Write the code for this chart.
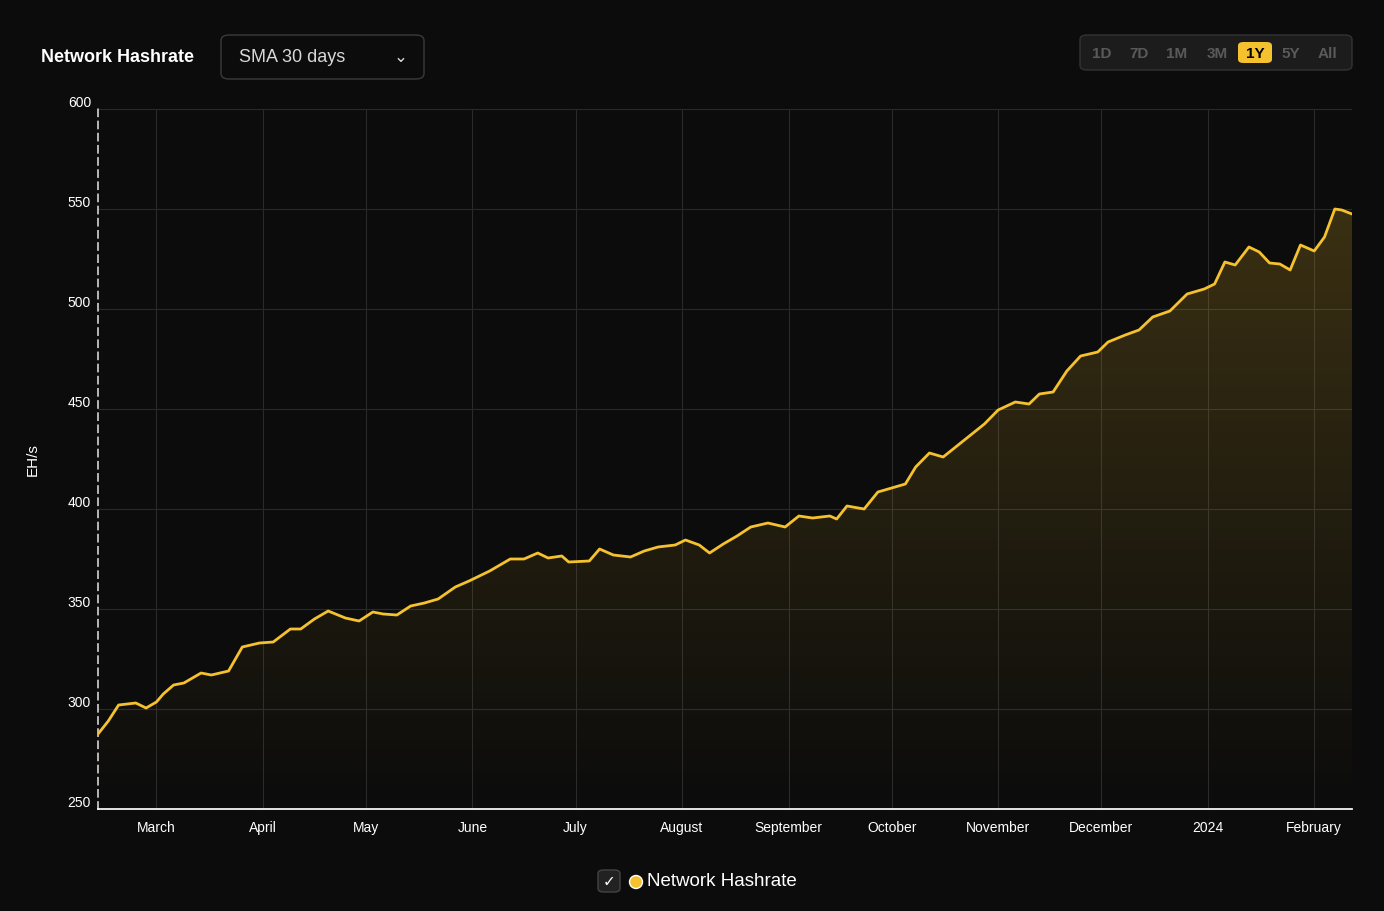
import numpy as np, pandas as pd, seaborn as sns, matplotlib
matplotlib.use("Agg")
import matplotlib.pyplot as plt
from matplotlib.patches import FancyBboxPatch, Polygon

day_offsets = [0,3,6,11,14,17,19,22,25,30,33,38,42,47,51,56,59,63,67,72,76,80,83,87,91,95,99,104,108,114,120,124,128,131,135,137,143,146,150,155,159,163,168,171,175,178,182,186,190,195,200,204,208,213,215,218,223,227,231,235,238,242,246,250,254,258,262,267,271,274,278,282,286,291,294,299,303,307,312,317,322,325,328,331,335,338,341,344,347,350,354,357,360,362,365]
hashrate = [287.5,294,302,303,300.5,303.5,307.5,312,313,318,317,319,331,333,333.5,340,340,345,349,345.5,344,348.5,347.5,347,351.5,353,355,361,364,369,375,375,378,375.5,376.5,373.5,374,380,377,376,379,381,382,384.5,382,378,382.5,386.5,391,393,391,396.5,395.5,396.5,395,401.5,400,408.5,410.5,412.5,421,428,426,431.5,437,442.5,449.5,453.5,452.5,457.5,458.5,469,476.5,478.5,483.5,487,489.5,496,499,507.5,510,512.5,523.5,522,531,528.5,523,522.5,519.5,532,529,536,550,549.5,547.5]
tick_labels = ["March","April","May","June","July","August","September","October","November","December","2024","February"]
tick_dates = ["2023-03-01","2023-04-01","2023-05-01","2023-06-01","2023-07-01","2023-08-01","2023-09-01","2023-10-01","2023-11-01","2023-12-01","2024-01-01","2024-02-01"]
yticks = [250,300,350,400,450,500,550,600]

start = pd.Timestamp("2023-02-12")
df = pd.DataFrame({"date": [start + pd.Timedelta(days=d) for d in day_offsets], "v": hashrate})

bg = "#0c0c0c"; gold = "#f5c12e"
sns.set_theme(style="dark")
plt.rcParams['font.family'] = ['Liberation Sans', 'DejaVu Sans']
fig = plt.figure(figsize=(13.84, 9.12), dpi=100, facecolor=bg)
ax = fig.add_axes([98/1384, 102/912, (1352-98)/1384, 700/912])
ax.set_facecolor(bg)
xs = matplotlib.dates.date2num(df["date"])
ax.set_xlim(xs[0], xs[-1]); ax.set_ylim(250, 600)
# gradient fill
grad = np.linspace(0, 1, 256).reshape(-1, 1)
cmap = matplotlib.colors.LinearSegmentedColormap.from_list("g", [(0.96,0.76,0.18,0.0),(0.96,0.76,0.18,0.2)])
im = ax.imshow(grad, extent=[xs[0], xs[-1], 250, 550], origin="lower", aspect="auto", cmap=cmap, zorder=1)
poly = Polygon(np.column_stack([np.r_[xs, xs[-1], xs[0]], np.r_[df["v"], 250, 250]]), closed=True, transform=ax.transData, facecolor="none", edgecolor="none")
ax.add_patch(poly); im.set_clip_path(poly)
sns.lineplot(data=df, x="date", y="v", ax=ax, color=gold, lw=2, zorder=3)
ax.set_xticks([matplotlib.dates.date2num(pd.Timestamp(t)) for t in tick_dates])
ax.set_xticklabels(tick_labels, color="white", fontsize=10)
ax.set_yticks(yticks); ax.set_yticklabels([str(y) for y in yticks], color="white", fontsize=10)
ax.tick_params(axis="y", length=0, pad=5)
ax.tick_params(axis="x", length=5, color="white", pad=3)
for t in ax.get_yticklabels(): t.set_verticalalignment("bottom")
ax.grid(True, color="#2a2a2a", lw=0.8)
for s in ["top","right"]: ax.spines[s].set_visible(False)
ax.spines["bottom"].set_color("white")
ax.spines["left"].set_color("#cccccc"); ax.spines["left"].set_linestyle((0,(4,3)))
ax.set_xlabel(""); ax.set_ylabel("EH/s", color="white", fontsize=11, labelpad=20)

fig.text(41/1384, 1-57/912, "Network Hashrate", color="white", fontsize=13, fontweight="bold", va="center")
fig.patches.append(FancyBboxPatch((221/1384, 1-80/912), 203/1384, 44/912, boxstyle="round,pad=0,rounding_size=0.006", transform=fig.transFigure, facecolor="#0c0c0c", edgecolor="#3a3a3a", lw=1))
fig.text(239/1384, 1-58/912, "SMA 30 days", color="#d8d8d8", fontsize=13, va="center")
fig.text(401/1384, 1-58/912, "⌄", color="#d8d8d8", fontsize=12, va="center", ha="center")
fig.patches.append(FancyBboxPatch((1080/1384, 1-71/912), 272/1384, 35/912, boxstyle="round,pad=0,rounding_size=0.005", transform=fig.transFigure, facecolor="#1c1c1c", edgecolor="#333333", lw=1))
btns = ["1D","7D","1M","3M","1Y","5Y","All"]; bx = [1102,1139,1177,1217,1255,1291,1328]
for b, x in zip(btns, bx):
    if b == "1Y":
        fig.patches.append(FancyBboxPatch(((x-17)/1384, 1-64/912), 34/1384, 21/912, boxstyle="round,pad=0,rounding_size=0.004", transform=fig.transFigure, facecolor=gold, edgecolor="none"))
        fig.text(x/1384, 1-54/912, b, color="black", fontsize=11, fontweight="bold", ha="center", va="center")
    else:
        fig.text(x/1384, 1-54/912, b, color="#5a5a5a", fontsize=11, fontweight="bold", ha="center", va="center")
fig.patches.append(FancyBboxPatch((598/1384, 1-893/912), 22/1384, 22/912, boxstyle="round,pad=0,rounding_size=0.004", transform=fig.transFigure, facecolor="#222222", edgecolor="#444444"))
fig.text(609/1384, 1-882/912, "✓", color="white", fontsize=11, ha="center", va="center", family=["DejaVu Sans"])
fig.patches.append(matplotlib.patches.Ellipse((636/1384, 1-883/912), 13/1384, 13/912, transform=fig.transFigure, facecolor=gold))
fig.text(647/1384, 1-882/912, "Network Hashrate", color="white", fontsize=13.5, va="center")
fig.savefig("out.png", facecolor=bg)
